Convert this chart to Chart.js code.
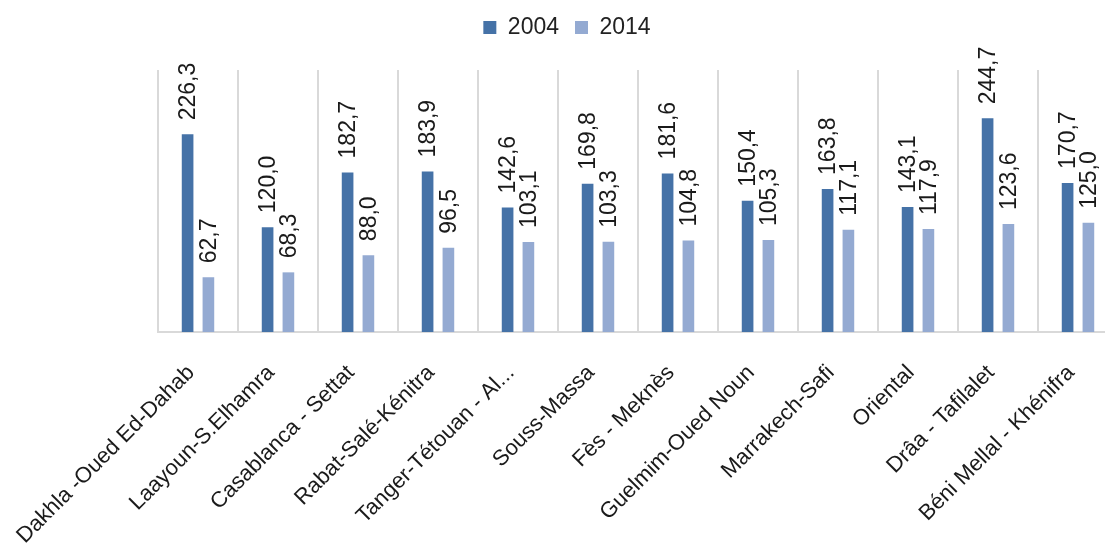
<!DOCTYPE html>
<html>
<head>
<meta charset="utf-8">
<script src="https://cdn.jsdelivr.net/npm/chart.js@4"></script>
<style>
  html, body { margin:0; padding:0; background:#fff; overflow:hidden; }
  #wrap { width:1120px; height:548px; position:relative; }
</style>
</head>
<body>
<div id="wrap"><canvas id="chart"></canvas></div>
<script>
// data
const regions = ["Dakhla -Oued Ed-Dahab","Laayoun-S.Elhamra","Casablanca - Settat","Rabat-Salé-Kénitra",
  "Tanger-Tétouan - Al...","Souss-Massa","Fès - Meknès","Guelmim-Oued Noun","Marrakech-Safi",
  "Oriental","Drâa - Tafilalet","Béni Mellal - Khénifra"];
const values2004 = [226.3,120.0,182.7,183.9,142.6,169.8,181.6,150.4,163.8,143.1,244.7,170.7];
const values2014 = [62.7,68.3,88.0,96.5,103.1,103.3,104.8,105.3,117.1,117.9,123.6,125.0];
const seriesNames = ["2004","2014"];

const FONT = "'Liberation Sans', Arial, sans-serif";

function fmt(v){ return v.toFixed(1).replace(".", ","); }

// vertical value labels above each bar
const barLabels = {
  id: "barLabels",
  afterDatasetsDraw(chart){
    const ctx = chart.ctx;
    ctx.save();
    ctx.font = "23px " + FONT;
    ctx.fillStyle = "#1a1a1a";
    ctx.textAlign = "left";
    ctx.textBaseline = "middle";
    chart.data.datasets.forEach((ds, di) => {
      chart.getDatasetMeta(di).data.forEach((bar, i) => {
        ctx.save();
        ctx.translate(bar.x + 1, bar.y - 14);
        ctx.rotate(-Math.PI / 2);
        ctx.fillText(fmt(ds.data[i]), 0, 0);
        ctx.restore();
      });
    });
    ctx.restore();
  }
};

// legend takes a fixed band at the top so the plot starts lower
const legendBand = {
  id: "legendBand",
  beforeUpdate(chart){
    const lg = chart.legend;
    if(!lg || lg._banded) return;
    const fit = lg.fit;
    lg.fit = function(){ fit.call(this); this.height = 70; };
    lg._banded = true;
  }
};

new Chart(document.getElementById("chart"), {
  type: "bar",
  data: {
    labels: regions,
    datasets: [
      { label: seriesNames[0], data: values2004, backgroundColor: "#4572a7" },
      { label: seriesNames[1], data: values2014, backgroundColor: "#94aad2" }
    ]
  },
  options: {
    responsive: true,
    maintainAspectRatio: false,
    animation: false,
    datasets: { bar: { categoryPercentage: 0.52, barPercentage: 0.56 } },
    layout: { padding: { left: 16, right: 2, top: 0, bottom: 0 } },
    plugins: {
      legend: {
        position: "top",
        labels: {
          font: { size: 23, family: FONT },
          color: "#222",
          boxWidth: 13, boxHeight: 13,
          padding: 16
        }
      },
      tooltip: { enabled: false }
    },
    scales: {
      x: {
        grid: { color: "#d9d9d9", lineWidth: 2, drawTicks: false, offset: true },
        border: { color: "#d9d9d9", width: 2 },
        ticks: {
          font: { size: 22, family: FONT },
          color: "#1a1a1a",
          minRotation: 45, maxRotation: 45,
          autoSkip: false,
          padding: 28,
          labelOffset: -7
        },
        afterFit: s => { s.height = 216; s.paddingLeft = 0; s.paddingRight = 0; }
      },
      y: {
        min: 0, max: 300,
        ticks: { display: false },
        grid: { display: false },
        border: { display: false },
        afterFit: s => { s.width = 142; }
      }
    }
  },
  plugins: [barLabels, legendBand]
});
</script>
</body>
</html>
